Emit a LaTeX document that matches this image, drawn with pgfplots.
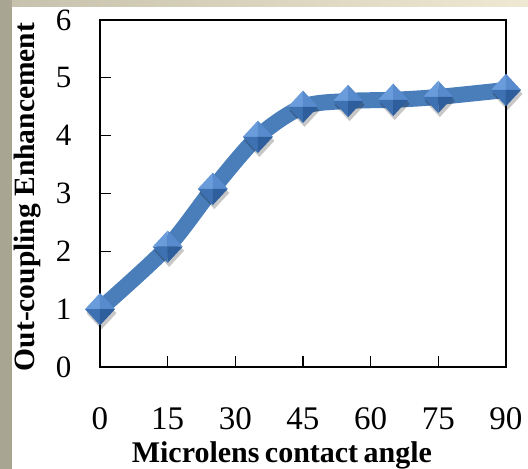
\documentclass[border=0pt]{standalone}
\usepackage{pgfplots}
\pgfplotsset{compat=1.18}
\usepackage{fontspec}
\setmainfont{Liberation Serif}
\definecolor{lineblue}{HTML}{4A7EBB}
\definecolor{mkA}{HTML}{6A9CDB}
\definecolor{mkB}{HTML}{588BCD}
\definecolor{mkC}{HTML}{3E71B2}
\definecolor{mkD}{HTML}{2F5E9C}
\definecolor{stripL}{HTML}{A8A693}
\definecolor{topA}{HTML}{C7C2AD}
\definecolor{topB}{HTML}{EFE8D2}

\pgfdeclareplotmark{bevdiamond}{%
  \pgfmathsetlengthmacro\mw{\pgfplotmarksize}%
  \pgfmathsetlengthmacro\mh{1.08*\pgfplotmarksize}%
  \begin{pgfscope}
    \pgfsetfillopacity{0.22}\pgfsetfillcolor{black}
    \pgftransformshift{\pgfpoint{1.5pt}{-4pt}}
    \pgfpathmoveto{\pgfpoint{-\mw}{0pt}}\pgfpathlineto{\pgfpoint{0pt}{\mh}}%
    \pgfpathlineto{\pgfpoint{\mw}{0pt}}\pgfpathlineto{\pgfpoint{0pt}{-\mh}}\pgfpathclose
    \pgfusepath{fill}
  \end{pgfscope}
  \begin{pgfscope}
    \pgfsetfillcolor{mkA}
    \pgfpathmoveto{\pgfpoint{-\mw}{0pt}}\pgfpathlineto{\pgfpoint{0pt}{\mh}}%
    \pgfpathlineto{\pgfpoint{0pt}{0pt}}\pgfpathclose\pgfusepath{fill}
  \end{pgfscope}
  \begin{pgfscope}
    \pgfsetfillcolor{mkB}
    \pgfpathmoveto{\pgfpoint{0pt}{\mh}}\pgfpathlineto{\pgfpoint{\mw}{0pt}}%
    \pgfpathlineto{\pgfpoint{0pt}{0pt}}\pgfpathclose\pgfusepath{fill}
  \end{pgfscope}
  \begin{pgfscope}
    \pgfsetfillcolor{mkC}
    \pgfpathmoveto{\pgfpoint{-\mw}{0pt}}\pgfpathlineto{\pgfpoint{0pt}{0pt}}%
    \pgfpathlineto{\pgfpoint{0pt}{-\mh}}\pgfpathclose\pgfusepath{fill}
  \end{pgfscope}
  \begin{pgfscope}
    \pgfsetfillcolor{mkD}
    \pgfpathmoveto{\pgfpoint{0pt}{0pt}}\pgfpathlineto{\pgfpoint{\mw}{0pt}}%
    \pgfpathlineto{\pgfpoint{0pt}{-\mh}}\pgfpathclose\pgfusepath{fill}
  \end{pgfscope}
}

\begin{document}
\begin{tikzpicture}
\useasboundingbox (-100bp,-102bp) rectangle (428bp,367bp);
\fill[white] (-100bp,-102bp) rectangle (428bp,367bp);
\fill[stripL] (-100bp,-102bp) rectangle (-88bp,367bp);
\shade[left color=topA, right color=topB] (-88bp,360bp) rectangle (428bp,367bp);
\begin{axis}[
  at={(0,0)}, anchor=south west,
  scale only axis, width=406bp, height=347bp,
  xmin=0, xmax=90, ymin=0, ymax=6,
  xtick={0,15,...,90}, ytick={0,1,...,6},
  tick pos=left, tick align=inside,
  major tick length=11bp,
  tick style={black, line width=1.2bp},
  axis line style={black, line width=1.2bp},
  axis on top, clip=false,
  /pgf/number format/assume math mode=true,
  xticklabel style={font=\fontsize{33bp}{33bp}\selectfont, yshift=-37bp},
  yticklabel style={font=\fontsize{31bp}{31bp}\selectfont, xshift=-25bp},
  xlabel={Microlens\hspace{0.18em}contact\hspace{0.18em}angle},
  ylabel={Out-coupling Enhancement},
  xlabel style={font=\bfseries\fontsize{30bp}{30bp}\selectfont, at={(axis description cs:0.448,0)}, anchor=base, yshift=-95bp},
  ylabel style={font=\bfseries\fontsize{29.5bp}{29.5bp}\selectfont, at={(axis description cs:0,0.49)}, anchor=center, rotate=0, yshift=72bp},
]
\addplot[color=lineblue, line width=16bp, smooth, tension=0.5,
  mark=bevdiamond, mark size=15bp] coordinates {
  (0,1.00) (15,2.08) (25,3.08) (35,3.98) (45,4.50)
  (55,4.60) (65,4.62) (75,4.67) (90,4.79)
};
\end{axis}
\end{tikzpicture}
\end{document}
